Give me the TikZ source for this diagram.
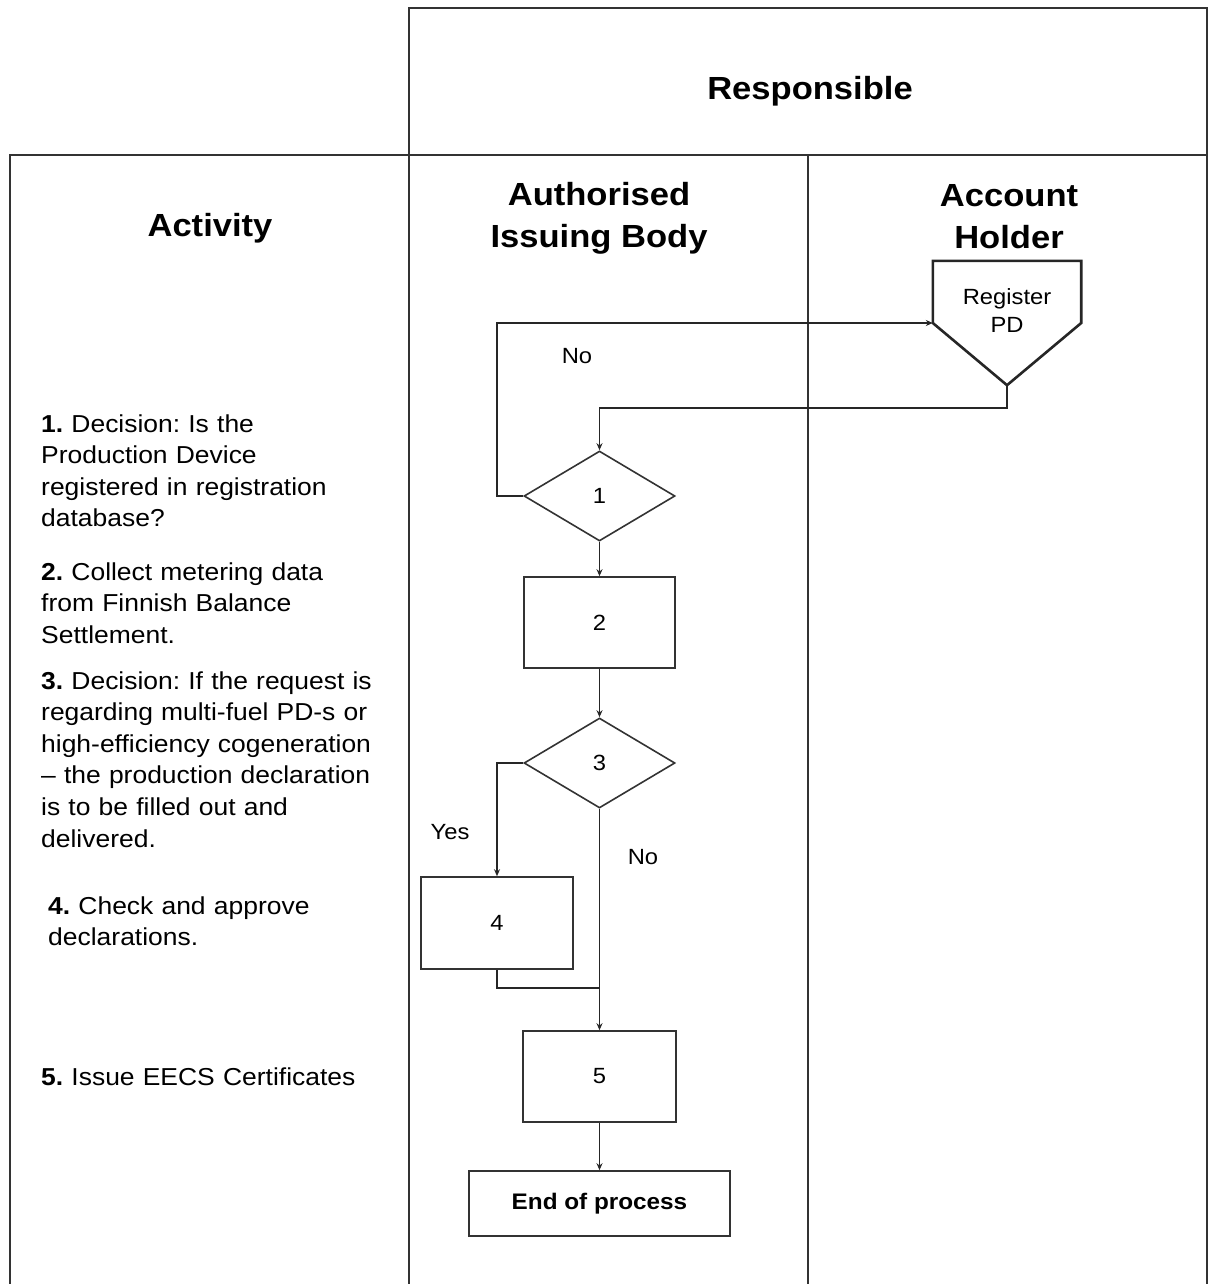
\documentclass[tikz,border=0pt]{standalone}
\usepackage{fontspec}
\setmainfont{Liberation Sans}[FakeStretch=1.08]
\frenchspacing
\usetikzlibrary{shapes.geometric,arrows.meta}
\tikzset{
  tbl/.style={draw=black!80, line width=1.8pt},
  flow/.style={draw=black!85, line width=1.5pt},
  arr/.style={flow, -{Stealth[length=7pt,width=6pt]}},
  procbox/.style={draw=black!80, line width=1.6pt, rectangle, inner sep=0pt, font=\fontsize{22}{26}\selectfont},
  decbox/.style={draw=black!80, line width=1.6pt, diamond, inner sep=0pt, minimum width=151pt, minimum height=90pt, font=\fontsize{22}{26}\selectfont},
  head/.style={font=\fontsize{32}{42}\selectfont\bfseries, align=center},
  lbl/.style={font=\fontsize{22}{28}\selectfont, align=center},
  item/.style={font=\fontsize{24.5}{31.6}\selectfont, anchor=base west, text width=370pt, align=left, inner sep=0pt}
}
\begin{document}
\begin{tikzpicture}[x=1pt,y=-1pt]
\useasboundingbox (0,0) rectangle (1209,1284);
% table frame
\draw[tbl] (409,1284) -- (409,8) -- (1207,8) -- (1207,1284);
\draw[tbl] (10,1284) -- (10,155) -- (1207,155);
\draw[tbl] (808,155) -- (808,1284);
% headings
\node[head] (hresp) at (810,91) {Responsible};
\node[head] (hact) at (210,228) {Activity};
\node[head] (haib) at (599,218) {Authorised\\Issuing Body};
\node[head] (hah) at (1009,217) {Account\\Holder};
% activity texts
\node[item] (t1) at (41,432) {\textbf{1.} Decision: Is the\\Production Device\\registered in registration\\database?};
\node[item] (t2) at (41,580) {\textbf{2.} Collect metering data\\from Finnish Balance\\Settlement.};
\node[item] (t3) at (41,689) {\textbf{3.} Decision: If the request is\\regarding multi-fuel PD-s or\\high-efficiency cogeneration\\– the production declaration\\is to be filled out and\\delivered.};
\node[item] (t4) at (48,914) {\textbf{4.} Check and approve\\declarations.};
\node[item] (t5) at (41,1085) {\textbf{5.} Issue EECS Certificates};
% register PD pentagon
\node[minimum width=148pt, minimum height=124pt, inner sep=0pt] (pd) at (1007,323) {};
\draw[draw=black!85, line width=2.6pt, line join=miter] (pd.north west) -- (pd.north east) -- (pd.east) -- (pd.south) -- (pd.west) -- cycle;
\node[lbl] (pdt) at (1007,311) {Register\\PD};
% flow nodes
\node[decbox] (d1) at (599.5,496) {1};
\node[procbox, minimum width=151pt, minimum height=91pt] (b2) at (599.5,622.5) {2};
\node[decbox] (d3) at (599.5,763) {3};
\node[procbox, minimum width=152pt, minimum height=92pt] (b4) at (497,923) {4};
\node[procbox, minimum width=153pt, minimum height=91pt] (b5) at (599.5,1076.5) {5};
\node[procbox, minimum width=261pt, minimum height=65pt, font=\fontsize{22.5}{26}\selectfont\bfseries] (endp) at (599.5,1203.5) {End of process};
\coordinate (j) at (599.5,988);
% connectors
\draw[arr] (d1.west) -- ++(-26,0) |- (pd.west);
\draw[arr] (pd.south) -- ++(0,23) -| (d1.north);
\draw[arr] (d1.south) -- (b2.north);
\draw[arr] (b2.south) -- (d3.north);
\draw[arr] (d3.west) -| (b4.north);
\draw[arr] (d3.south) -- (b5.north);
\draw[flow] (b4.south) |- (j);
\draw[arr] (b5.south) -- (endp.north);
% labels
\node[lbl] (lno1) at (577,356) {No};
\node[lbl] (lyes) at (450,832) {Yes};
\node[lbl] (lno2) at (643,857) {No};
\end{tikzpicture}
\end{document}
